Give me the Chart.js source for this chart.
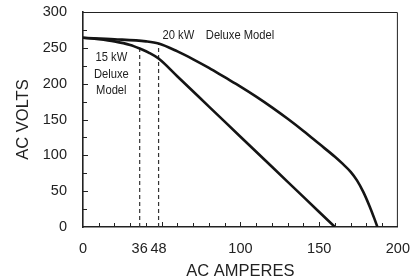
<!DOCTYPE html>
<html>
<head>
<meta charset="utf-8">
<script src="https://cdn.jsdelivr.net/npm/chart.js@4.4.0/dist/chart.umd.min.js"></script>
<style>
  html, body { margin: 0; padding: 0; background: #fff; }
  #wrap { width: 415px; height: 280px; }
</style>
</head>
<body>
<div id="wrap"><canvas id="genChart" width="415" height="280"></canvas></div>
<script>
// AC amperes / AC volts
const amps20 = [0, 20, 40, 48, 60, 70, 80, 90, 100, 110, 120, 130, 140, 150, 160, 165, 170, 174, 178, 182, 185, 187];
const volts20 = [264, 262, 259, 256, 245, 234, 222, 209, 196, 182, 167, 151, 134, 116, 98, 88, 77, 65, 49, 29, 12, 0];
const amps15 = [0, 10, 20, 30, 36, 42, 48, 60, 80, 100, 120, 140, 160];
const volts15 = [264, 262, 259, 254, 249, 243, 235, 210, 168, 126, 84, 42, 0];
const markAmps = [36, 48];
const markVolts = [249, 256];
const xTickLabels = [0, 36, 48, 100, 150, 200];

const FONT = "'Liberation Sans', Arial, sans-serif";

function toPoints(xs, ys) {
    return xs.map((x, i) => ({ x: x, y: ys[i] }));
}

// dashed guide lines, one dataset per marker
const guideSets = markAmps.map((a, i) => ({
    data: [{ x: a, y: 0 }, { x: a, y: markVolts[i] }],
    borderColor: '#333',
    borderWidth: 1.2,
    borderDash: [4, 3],
    pointRadius: 0,
    tension: 0
}));

// narrow text helper (the original uses a condensed face)
function narrowText(ctx, txt, x, y, align) {
    const sx = 0.86;
    ctx.save();
    ctx.textAlign = align;
    ctx.scale(sx, 1);
    ctx.fillText(txt, x / sx, y);
    ctx.restore();
}

// box, inner ticks and curve labels
const decor = {
    id: 'decor',
    afterDraw(chart) {
        const ctx = chart.ctx;
        const a = chart.chartArea;
        const xs = chart.scales.x, ys = chart.scales.y;
        ctx.save();
        ctx.strokeStyle = '#222';
        ctx.lineWidth = 1;
        ctx.beginPath();
        ctx.moveTo(a.left, a.top + 0.5);
        ctx.lineTo(a.right - 0.5, a.top + 0.5);
        ctx.lineTo(a.right - 0.5, a.bottom);
        ctx.stroke();
        // minor ticks pointing into the plot
        ctx.beginPath();
        for (let v = 10; v < 200; v += 10) {
            const px = Math.round(xs.getPixelForValue(v)) + 0.5;
            ctx.moveTo(px, a.bottom);
            ctx.lineTo(px, a.bottom - (v % 50 === 0 ? 5 : 4));
        }
        for (let v = 25; v < 300; v += 25) {
            const py = Math.round(ys.getPixelForValue(v)) + 0.5;
            ctx.moveTo(a.left, py);
            ctx.lineTo(a.left + (v % 50 === 0 ? 5 : 4), py);
        }
        ctx.stroke();
        // labels
        ctx.fillStyle = '#222';
        ctx.font = '13px ' + FONT;
        ctx.textBaseline = 'middle';
        narrowText(ctx, '20 kW', xs.getPixelForValue(50.5), ys.getPixelForValue(268), 'left');
        narrowText(ctx, 'Deluxe Model', xs.getPixelForValue(78), ys.getPixelForValue(268), 'left');
        const cx = xs.getPixelForValue(18);
        narrowText(ctx, '15 kW', cx, ys.getPixelForValue(236), 'center');
        narrowText(ctx, 'Deluxe', cx, ys.getPixelForValue(213), 'center');
        narrowText(ctx, 'Model', cx, ys.getPixelForValue(190), 'center');
        ctx.restore();
    }
};

new Chart(document.getElementById('genChart'), {
    type: 'line',
    data: {
        datasets: [
            {
                label: '20 kW Deluxe Model',
                data: toPoints(amps20, volts20),
                borderColor: '#141414',
                borderWidth: 2.6,
                pointRadius: 0,
                cubicInterpolationMode: 'monotone'
            },
            {
                label: '15 kW Deluxe Model',
                data: toPoints(amps15, volts15),
                borderColor: '#141414',
                borderWidth: 2.6,
                pointRadius: 0,
                cubicInterpolationMode: 'monotone'
            }
        ].concat(guideSets)
    },
    options: {
        responsive: false,
        animation: false,
        layout: { padding: { top: 12, right: 15, left: 0, bottom: 0 } },
        plugins: { legend: { display: false }, tooltip: { enabled: false } },
        scales: {
            x: {
                type: 'linear',
                min: 0,
                max: 200,
                afterBuildTicks: function(scale) {
                    scale.ticks = xTickLabels.map(v => ({ value: v }));
                },
                afterFit: function(scale) { scale.height = 53; },
                grid: { display: false },
                border: { display: true, color: '#222', width: 1.6 },
                ticks: {
                    color: '#222',
                    padding: 5,
                    maxRotation: 0,
                    autoSkip: false,
                    font: { family: FONT, size: 14.5 }
                },
                title: {
                    display: true,
                    text: 'AC AMPERES',
                    color: '#222',
                    padding: 0,
                    font: { family: FONT, size: 16.5, lineHeight: 1 }
                }
            },
            y: {
                min: 0,
                max: 300,
                afterFit: function(scale) {
                    scale.width = 83;
                    scale.paddingTop = 0;
                    scale.paddingBottom = 0;
                },
                grid: { display: false },
                border: { display: true, color: '#222', width: 1.6 },
                ticks: {
                    stepSize: 50,
                    color: '#222',
                    padding: 8,
                    font: { family: FONT, size: 14.5 }
                },
                title: {
                    display: true,
                    text: 'AC VOLTS',
                    color: '#222',
                    padding: { top: 14, bottom: 0 },
                    font: { family: FONT, size: 16.5, lineHeight: 1.2 }
                }
            }
        }
    },
    plugins: [decor]
});
</script>
</body>
</html>
